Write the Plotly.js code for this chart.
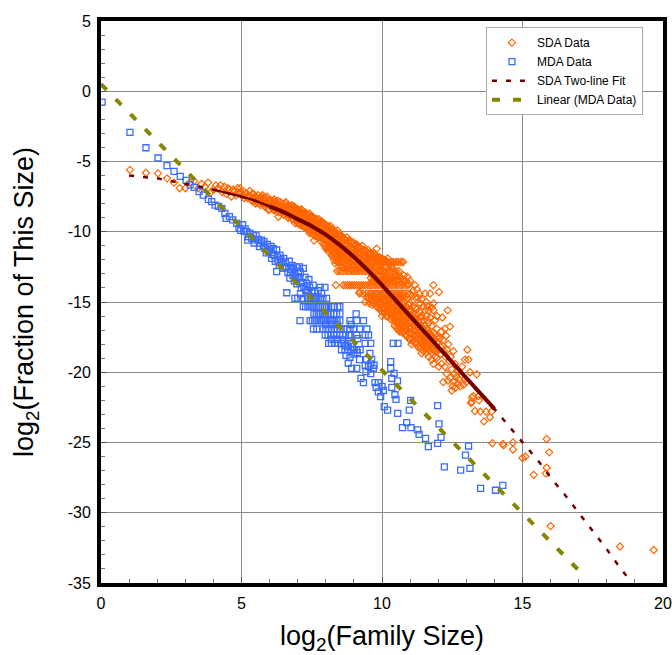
<!DOCTYPE html>
<html><head><meta charset="utf-8">
<script src="https://cdn.plot.ly/plotly-3.0.1.min.js"></script>
<style>html,body{margin:0;padding:0;background:#fff}</style></head>
<body><div id="chart" style="width:672px;height:655px"></div>
<script>
// [x, y]
const sdaHead=[[1.03,-5.6],[1.6,-5.8],[2.03,-5.85],[2.35,-6.2],[2.6,-6.5],[2.8,-6.9],[3,-6.9],[3.17,-6.5],[3.32,-6.4],[3.46,-6.9],[3.58,-6.6],[3.7,-6.8],[3.81,-6.5],[3.91,-7.2],[4,-7],[4.09,-6.7],[4.17,-6.9],[4.25,-6.7],[4.32,-7.2],[4.39,-6.8],[4.46,-7.3],[4.52,-6.9],[4.58,-7],[4.64,-7.5],[4.7,-7],[4.75,-7.1],[4.81,-7.4],[4.86,-6.9],[4.91,-7.2],[4.95,-6.9],[5,-7.2],[5.04,-7.4],[5.09,-7.6],[5.13,-7.2],[5.17,-7.3],[5.21,-7.6],[5.25,-7.4],[5.29,-7.1],[5.32,-7.5],[5.36,-7.8],[5.39,-7.3]];
// Columns: [x, y, y, ...]
const sdaColumnsLeft=[[5.42,-7.3,-7.8],[5.46,-7.5,-7.7],[5.5,-7.5,-8],[5.54,-7.6,-7.9],[5.58,-7.4,-7.7],[5.63,-7.8,-8],[5.67,-7.6,-8.1],[5.71,-7.5,-7.9],[5.75,-7.4,-8],[5.79,-7.6,-8.1],[5.83,-7.7,-8.2],[5.87,-7.6,-8],[5.91,-7.5,-7.9],[5.96,-7.8,-8.45],[6,-7.7,-8,-8.4],[6.05,-7.8,-8.2],[6.09,-7.9,-8.3],[6.13,-7.8,-8.1,-8.4],[6.17,-7.7,-8.1,-8.5],[6.21,-7.9,-8.2],[6.25,-7.9,-8.4],[6.29,-8,-8.3,-8.6],[6.31,-7.8,-8.3,-8.93],[6.38,-7.9,-8.2,-8.6],[6.43,-8,-8.5],[6.47,-8.2,-8.6],[6.5,-8.1,-8.4,-8.8],[6.54,-8,-8.3,-8.6],[6.58,-7.9,-8.3,-8.7],[6.62,-8.2,-8.5,-8.8],[6.66,-8.1,-8.6,-9],[6.71,-8.3,-8.7],[6.75,-8.2,-8.5,-8.9],[6.79,-8.1,-8.4,-8.8,-9.1],[6.83,-8.3,-8.7,-9.1],[6.87,-8.2,-8.5,-8.9],[6.91,-8.3,-8.6,-9,-9.4],[6.96,-8.4,-8.8,-9.2],[7,-8.4,-8.7,-9,-9.4],[7.04,-8.5,-8.8,-9.1,-9.4],[7.08,-8.5,-8.9,-9.2,-9.5],[7.13,-8.4,-8.7,-9,-9.3],[7.17,-8.5,-8.8,-9.1,-9.6],[7.21,-8.7,-9,-9.3,-9.6],[7.25,-8.6,-8.9,-9.3,-9.7],[7.29,-8.7,-9,-9.4,-9.7],[7.33,-8.8,-9.1,-9.4,-9.8],[7.38,-8.8,-9.2,-9.5,-9.9],[7.42,-8.7,-9,-9.4,-9.8,-10.1],[7.46,-8.9,-9.3,-9.7,-10],[7.5,-8.9,-9.2,-9.5,-9.9],[7.54,-9,-9.4,-9.8,-10.2],[7.58,-9,-9.3,-9.7,-10,-10.63],[7.63,-9.2,-9.6,-9.9,-10.3],[7.67,-9.1,-9.5,-9.8,-10.2],[7.71,-9.2,-9.6,-10,-10.3],[7.75,-9.1,-9.4,-9.8,-10.1,-10.4],[7.79,-9.3,-9.7,-10,-10.4],[7.83,-9.3,-9.6,-10,-10.3,-10.7],[7.88,-9.3,-9.7,-10.1,-10.5],[7.92,-9.4,-9.7,-10,-10.4,-10.8],[7.96,-9.5,-9.9,-10.2,-10.6,-11],[8,-9.5,-9.8,-10.1,-10.5,-10.9,-11.2],[8.04,-9.6,-9.9,-10.3,-10.7,-11.1],[8.09,-9.6,-10,-10.3,-10.6,-11,-11.4],[8.13,-9.8,-10.2,-10.5,-10.9,-11.3],[8.17,-9.6,-10.1,-10.4,-10.8,-11.2],[8.21,-9.9,-10.3,-10.7,-11,-11.4,-11.7],[8.25,-9.8,-10.2,-10.5,-10.9,-11.3,-11.7],[8.29,-9.9,-10.4,-10.8,-11.2,-11.6,-12],[8.33,-10,-10.3,-10.6,-11,-11.4,-11.8,-12.25],[8.37,-10.1,-10.5,-10.9,-11.3,-11.7,-12.1],[8.41,-9.9,-10.4,-10.8,-11.2,-11.6,-12],[8.46,-10.2,-10.6,-11,-11.4,-11.8,-12.2],[8.5,-10.2,-10.6,-10.9,-11.3,-11.7,-12.1],[8.54,-10.4,-10.8,-11.2,-11.6,-12,-12.4],[8.58,-10.3,-10.7,-11.1,-11.4,-11.8,-12.2],[8.63,-10.5,-10.9,-11.3,-11.7,-12.1,-12.5],[8.67,-10.5,-10.8,-11.2,-11.6,-11.9,-12.3],[8.71,-10.6,-11,-11.4,-11.8,-12.2],[8.75,-10.4,-10.9,-11.3,-11.7,-12,-12.4],[8.79,-10.7,-11.1,-11.5,-11.9,-12.3],[8.83,-10.6,-11,-11.4,-11.8,-12.1,-12.5],[8.88,-10.8,-11.2,-11.6,-12,-12.4],[8.92,-10.7,-11.1,-11.5,-11.9,-12.3,-12.7],[8.96,-10.9,-11.3,-11.7,-12.1,-12.5],[9,-10.8,-11.2,-11.6,-12,-12.4]];
const sdaColumnsRight=[[9.05,-11,-11.4,-11.8,-12.2,-12.6],[9.1,-10.9,-11.3,-11.7,-12.1,-12.5],[9.15,-11.1,-11.5,-11.9,-12.3,-12.6],[9.2,-11.1,-11.5,-11.9,-12.3,-14.3],[9.25,-11.2,-11.6,-12,-12.5],[9.3,-11,-11.4,-11.8,-12.2,-12.6],[9.35,-11.3,-11.7,-12.1,-12.5],[9.4,-11.3,-11.7,-12.1,-12.5,-15],[9.45,-11.4,-11.8,-12.2,-12.6],[9.5,-11.3,-11.6,-12,-12.4],[9.55,-11.6,-12,-12.5,-15.1],[9.6,-11.5,-11.9,-12.2,-12.6,-13.3,-14.9],[9.65,-11.7,-12.1,-12.5,-13.1,-13.5,-15.2],[9.7,-11.5,-11.8,-12.2,-13.2,-13.5,-15.1],[9.75,-11.7,-12,-12.5,-13.2,-13.4,-15],[9.81,-11.2,-11.9,-12.3,-13.3,-13.5,-15.3],[9.85,-11.8,-12.4,-13.1,-13.4,-15.1,-15.4],[9.9,-11.8,-12.1,-13.2,-13.5,-15,-15.5],[9.95,-11.9,-12.4,-13.1,-13.5,-15.2,-15.6],[10,-11.9,-12.3,-13.3,-13.6,-15.1,-15.7,-16],[10.05,-12,-12.5,-13.2,-13.5,-15.3,-15.6],[10.1,-12,-13.3,-13.5,-15,-15.4,-15.8],[10.15,-12.1,-12.5,-13.1,-13.4,-15.2,-15.6,-16],[10.2,-11.9,-13.2,-13.6,-15.2,-15.6,-16],[10.25,-12.3,-13.3,-15,-15.4,-15.8],[10.3,-12.3,-13.4,-15.1,-15.5,-15.9,-16.2],[10.35,-12.4,-13.2,-15.2,-15.6,-16,-16.3],[10.4,-12.2,-13.3,-13.5,-15,-15.4,-15.8,-16.1],[10.45,-13,-13.4,-15.1,-15.5,-15.9,-16.3,-16.7],[10.5,-13.2,-15.2,-15.6,-16,-16.4,-16.8],[10.54,-13.1,-13.4,-15.3,-15.7,-16.1,-16.5,-16.9],[10.58,-13.4,-15.1,-15.5,-15.9,-16.4,-17],[10.63,-13.2,-15.2,-15.6,-16,-16.4,-16.8,-17.1],[10.68,-13.3,-15.4,-15.8,-16.2,-16.6,-17],[10.73,-13.4,-15.1,-15.6,-16,-16.4,-16.8,-17.2],[10.78,-13.1,-15,-15.5,-15.9,-16.3,-16.7,-17.1],[10.84,-13.5,-15.3,-15.7,-16.1,-16.5,-16.9,-17.35],[10.9,-13.2,-15.4,-15.8,-16.2,-16.6,-17,-17.4],[10.95,-13.7,-15.2,-15.6,-16,-16.4,-16.8,-17.2,-17.6],[11,-13.5,-15.1,-15.7,-16.1,-16.5,-16.9,-17.3,-17.7],[11.05,-14.6,-15.6,-16,-16.4,-16.8,-17.2,-17.6,-18],[11.1,-14.2,-15.3,-15.8,-16.2,-16.6,-17,-17.4,-17.8],[11.18,-13.8,-14.7,-15.4,-15.9,-16.3,-16.7,-17.1,-17.5,-17.9],[11.24,-14.1,-15.5,-16.2,-16.6,-17,-17.4,-17.94],[11.28,-14.7,-15.9,-16.4,-16.8,-17.2,-17.6,-18.2],[11.33,-14.4,-15.7,-16.5,-16.9,-17.3,-17.7,-18.1],[11.37,-15.1,-16.1,-16.7,-17.1,-17.5,-17.9,-18.3],[11.41,-14.8,-16,-16.4,-16.8,-17.2,-17.6,-18,-18.65],[11.47,-15.3,-16.3,-16.9,-17.3,-17.7,-18.1,-18.5],[11.53,-14.4,-15.6,-16.7,-17.1,-17.5,-17.9,-18.3],[11.58,-15,-16,-16.9,-17.3,-17.7,-18.1,-18.6],[11.62,-15.3,-16.3,-17,-17.4,-17.8,-18.2],[11.66,-15.6,-16.5,-17.2,-17.6,-18,-18.4,-18.9],[11.71,-14.4,-16.1,-17.3,-17.7,-18.1,-18.5],[11.77,-15.4,-16.7,-17.4,-17.8,-18.2,-18.6,-19.1],[11.83,-13.8,-15.1,-15.6,-17.2,-17.6,-18,-18.4,-19.4],[11.89,-16.3,-17.3,-17.7,-18.1,-18.5,-18.9],[11.95,-16,-16.9,-17.5,-17.9,-18.3,-19]];
const sdaScatter=[[12.03,-14.3],[12.34,-15.6],[12.15,-16.1],[12.42,-16.75],[12.24,-16.9],[12.12,-17.1],[12.05,-17.6],[12.08,-18.2],[12.18,-17.7],[12.2,-18.5],[12.02,-18.4],[12.1,-18.7],[12.14,-18.1],[12.28,-17.4],[12.32,-18.4],[12.26,-18.9],[12.36,-18],[12.44,-18.9],[13.04,-18.4],[12.54,-18.5],[12.95,-19.1],[13.07,-19.1],[13.37,-20.15],[13.13,-20],[12.12,-19.4],[12.02,-19.6],[12.24,-19.6],[12.48,-19.8],[12.3,-20.1],[12.18,-20.7],[12.48,-21.3],[12.78,-21],[12.9,-20.9],[12.66,-20.3],[12.4,-19.2],[12.6,-19.4],[12.7,-19.9],[12.85,-20.2],[12.95,-20.5],[12.55,-20.7],[12.7,-20.8],[12.62,-21.1],[12.35,-20.6],[12.85,-19.6],[12.58,-20.1],[12.42,-20.4],[12.74,-20.5],[12.52,-21],[13,-20.7],[13.19,-22.1],[13.43,-21.7],[13.25,-21.7],[13.2,-21.8],[13.17,-22.2],[13.45,-22],[13.31,-22.76],[13.5,-22.8],[13.7,-22.8],[13.9,-22.8],[13.84,-23.2],[13.63,-23.5],[13.93,-25.05],[14.3,-25.1],[14.33,-25.2],[14.66,-25],[14.66,-25.5],[15,-26.1],[15.1,-26],[15.4,-27.3],[15.86,-24.75],[15.95,-25.7],[15.86,-26.8],[15.83,-27.2],[16,-30.95],[18.47,-32.4],[19.67,-32.65]];
// Horizontal rows of points: one y, many x
const sdaRowY=[-12.15,-12.8,-13.8,-14.4,-14.7];
const sdaRowX=[
[9.3,9.42,9.5,9.61,9.7,9.82,9.9,10.02,10.1,10.2,10.31,10.4,10.5,10.58,10.67,10.75],
[8.4,8.48,8.55,8.63,8.72,8.8,8.88,8.95,9.03,9.1,9.18,9.27,9.35,9.43,9.52,9.6,9.68,9.76,9.85,9.93,10,10.08,10.17,10.25,10.33,10.42,10.5,10.6],
[8.36,8.62,8.7,8.78,8.85,8.93,9.01,9.09,9.17,9.25,9.33,9.41,9.5,9.58,9.66,9.75,9.83,9.91,10,10.08,10.16,10.25,10.33,10.41,10.5,10.58,10.67,10.75,10.85,10.93],
[9.2,9.32,9.45,9.55,9.63,9.72,9.8,9.88,9.97,10.05,10.13,10.22,10.3,10.38,10.47,10.55,10.63,10.72,10.8,10.9,11],
[9.47,9.55,9.63,9.72,9.8,9.88,9.97,10.05,10.13,10.22,10.3,10.38,10.47,10.55,10.63,10.72,10.8,10.9]];

const mdaHead=[[0.04,-0.77],[1.03,-2.92],[1.6,-4.02],[2.03,-4.75],[2.35,-5.3],[2.6,-5.7],[2.82,-6.06],[3.03,-6.34],[3.17,-6.67],[3.32,-6.84],[3.49,-7.15],[3.64,-7.4],[3.82,-7.7],[3.94,-7.86],[4.06,-8.1],[4.18,-8.2],[4.3,-8.33],[4.41,-8.7],[4.45,-9.05],[4.57,-8.93],[4.69,-9.16],[4.83,-9.4],[4.91,-9.76],[4.97,-9.9],[5.04,-9.5],[5.08,-9.95],[5.13,-9.8],[5.19,-10],[5.22,-10.6],[5.25,-10.35],[5.3,-10.1],[5.36,-10.47],[5.42,-10.2],[5.45,-10.8],[5.48,-10.6],[5.52,-10.3],[5.6,-10.54],[5.66,-10.8],[5.72,-10.6],[5.64,-11.06],[5.78,-11],[5.8,-10.7],[5.84,-11.2],[5.88,-11.5],[5.92,-10.9],[5.96,-11.4],[6,-11.3],[6.05,-11.05],[6.07,-11.9],[6.09,-11.6],[6.13,-11.2],[6.16,-11.66],[6.2,-12.1],[6.25,-11.3],[6.25,-12.84],[6.28,-11.8],[6.3,-12],[6.34,-12.4],[6.37,-11.66],[6.4,-11.95],[6.43,-12.13],[6.47,-12.6],[6.5,-11.9],[6.52,-12.5],[6.56,-12.2],[6.6,-12.5],[6.61,-14.34],[6.65,-12.9],[6.7,-12.1],[6.72,-13.3],[6.74,-12.9],[6.78,-12.7],[6.8,-12.4],[6.83,-13.1],[6.85,-12.6],[6.88,-13.5],[6.9,-13],[6.9,-14.74],[6.93,-13.3],[6.95,-12.5],[6.97,-13.7],[7,-13.2],[7.03,-12.8],[7.06,-12.5],[7.08,-13.3],[7.08,-16.33],[7.1,-12.9],[7.13,-14],[7.15,-13.6],[7.2,-12.6],[7.22,-13.9],[7.26,-13.25],[7.3,-14.3],[7.32,-13.67],[7.35,-14.2],[7.4,-13.4],[7.42,-13.95],[7.45,-14.7],[7.5,-14.3],[7.55,-13.8],[7.6,-14.2],[7.65,-14.75],[7.73,-14.2],[7.8,-13.96],[7.85,-14.4],[7.97,-13.96],[8.03,-14.74],[7,-14.74],[7.1,-14.4],[7.18,-14.74],[7.28,-14.1],[7.35,-14.74],[7.55,-14.74],[7.75,-14.74],[7.9,-14.74],[7.48,-14.74],[7.62,-14.74],[7.82,-14.74]];
const mdaRowY=[-15.33,-15.85,-16.33,-16.92,-17.35,-17.94,-18.4];
const mdaRowX=[
[7.2,7.28,7.36,7.44,7.51,7.58,7.66,7.73,7.8,7.88,7.95,8.03,8.1,8.2,8.3,8.42,8.5],
[7.58,7.66,7.73,7.8,7.9,8,8.08,8.18,8.28,8.38,8.5,9.08],
[7.44,7.52,7.6,7.68,7.76,7.84,7.92,8,8.08,8.16,8.24,8.32,8.4,8.5,8.86,9.1,9.34],
[7.56,7.68,7.9,8,8.08,8.2,8.32,8.4,8.5,8.64,8.76,8.86,9,9.2,9.46],
[7.98,8.08,8.18,8.28,8.38,8.5,8.6,8.7,8.82,8.86,9.1,9.4,9.52],
[8.1,8.2,8.32,8.44,8.56,8.66,8.76,8.9,9.4,9.6,10.4,10.57],
[8.56,8.68,8.78,8.88,9,9.1,9.22]];
const mdaScatter=[[8,-16.6],[8.2,-16.6],[8.4,-16.6],[8.2,-17.65],[8.4,-17.65],[8.6,-17.7],[8.9,-16.6],[9.14,-17.6],[8.7,-18.1],[8.8,-18.2],[9,-18.7],[8.72,-18.8],[8.86,-18.95],[8.95,-18.2],[9.12,-18.6],[9.57,-18.65],[9.63,-19.1],[8.8,-19.36],[8.92,-19.72],[9.1,-19.72],[9.2,-19.1],[9.4,-19.5],[9.52,-19.6],[9.45,-19.1],[9.6,-19.4],[9.72,-19.5],[10.31,-19.25],[10.31,-19.72],[9.69,-19.72],[9.6,-20.1],[9.43,-19.96],[10.43,-20.08],[9.25,-20.43],[9.34,-20.74],[9.75,-20.74],[9.87,-20.74],[10.35,-20.43],[10.55,-20.62],[9.79,-21.07],[10,-21],[10.05,-21.3],[10.35,-21.07],[9.95,-21.74],[9.87,-21.4],[10.46,-21.6],[10.5,-21.93],[11.02,-22],[10.97,-22.7],[11.98,-22.38],[10.08,-22.45],[10.2,-22.7],[10.56,-22.93],[12.03,-23.68],[10.88,-23.59],[10.73,-23.94],[11.03,-23.94],[11.27,-24.1],[11.32,-24.42],[11.55,-24.7],[11.65,-25.3],[11.98,-25.06],[12.1,-24.63],[13.08,-25.25],[12.97,-25.9],[12.22,-26.74],[12.8,-26.96],[13.13,-26.84],[13.51,-28.26],[14.04,-28.4],[14.3,-28.05]];

const fitX=[1,2,3,4,5,5.5,6,6.5,7,7.5,8,8.5,9,9.5,10,10.5,11,11.5,12,13,14,14.5,15,15.6,16,16.5,17,17.5,18,18.5,18.83];
const fitY=[-6,-6.2,-6.6,-7,-7.5,-7.8,-8.2,-8.6,-9.1,-9.6,-10.2,-10.95,-11.8,-12.75,-13.8,-14.9,-16,-17.1,-18.2,-20.4,-22.6,-23.8,-25,-26.4,-27.5,-28.7,-30,-31.3,-32.6,-34,-34.8];
const linearX=[0,17.1];
const linearY=[0.5,-34.3];
const xTicks=[0,5,10,15,20];
const yTicks=[5,0,-5,-10,-15,-20,-25,-30,-35];

function collect(pairs,columns,rowY,rowX){
  const x=[],y=[];
  pairs.forEach(p=>{x.push(p[0]);y.push(p[1]);});
  columns.forEach(c=>c.slice(1).forEach(v=>{x.push(c[0]);y.push(v);}));
  rowY.forEach((v,i)=>rowX[i].forEach(u=>{x.push(u);y.push(v);}));
  return {x,y};
}
const sda=collect(sdaHead.concat(sdaScatter),sdaColumnsLeft.concat(sdaColumnsRight),sdaRowY,sdaRowX);
const mda=collect(mdaHead.concat(mdaScatter),[],mdaRowY,mdaRowX);
const orange='#FF6600',blue='#3A6CFF',maroon='#760000',olive='#858500';
const solidFrom=fitX.indexOf(4),midFrom=fitX.indexOf(6),solidTo=fitX.indexOf(14)+1;
const traces=[
 {name:'SDA Data',x:sda.x,y:sda.y,mode:'markers',type:'scatter',marker:{symbol:'diamond-open',size:5.5,color:orange,line:{color:orange,width:1.2}}},
 {name:'MDA Data',x:mda.x,y:mda.y,mode:'markers',type:'scatter',marker:{symbol:'square-open',size:6,color:blue,line:{color:blue,width:1.3}}},
 {name:'SDA Two-line Fit',x:fitX,y:fitY,mode:'lines',type:'scatter',line:{color:maroon,width:2.5,dash:'5px,9px'}},
 {name:'Linear (MDA Data)',x:linearX,y:linearY,mode:'lines',type:'scatter',line:{color:olive,width:4,dash:'8px,13px'}},
 {x:fitX.slice(solidFrom,midFrom+1),y:fitY.slice(solidFrom,midFrom+1),mode:'lines',type:'scatter',showlegend:false,hoverinfo:'skip',line:{color:maroon,width:2.2,shape:'spline'}},
 {x:fitX.slice(midFrom,solidTo),y:fitY.slice(midFrom,solidTo),mode:'lines',type:'scatter',showlegend:false,hoverinfo:'skip',line:{color:maroon,width:4,shape:'spline'}}
];
const axisFont={family:'"Liberation Sans",Arial,sans-serif',size:16,color:'#000'};
const titleFont={family:'"Liberation Sans",Arial,sans-serif',size:27,color:'#000'};
const layout={
 width:672,height:655,autosize:false,paper_bgcolor:'#fff',plot_bgcolor:'#fff',
 margin:{l:101,r:9,t:21,b:72},
 font:{family:'"Liberation Sans",Arial,sans-serif',color:'#000'},
 xaxis:{range:[0,20],tickmode:'array',tickvals:xTicks,ticktext:xTicks.map(String),tickfont:axisFont,ticks:'inside',ticklen:6,tickcolor:'#555',ticklabelstandoff:3,
  showgrid:true,gridcolor:'#8a8a8a',gridwidth:1,zeroline:false,showline:true,linecolor:'#000',linewidth:4,mirror:true,
  minor:{dtick:1,ticks:'inside',ticklen:4,tickcolor:'#777',showgrid:false},
  title:{text:'log<sub>2</sub>(Family Size)',font:titleFont,standoff:25}},
 yaxis:{range:[-35,5],tickmode:'array',tickvals:yTicks,ticktext:yTicks.map(String),tickfont:axisFont,ticks:'inside',ticklen:6,tickcolor:'#555',ticklabelstandoff:3,
  showgrid:true,gridcolor:'#8a8a8a',gridwidth:1,zeroline:false,showline:true,linecolor:'#000',linewidth:4,mirror:true,
  minor:{dtick:1,ticks:'inside',ticklen:4,tickcolor:'#777',showgrid:false},
  title:{text:'log<sub>2</sub>(Fraction of This Size)',font:titleFont,standoff:27}},
 legend:{x:0.685,y:0.989,xanchor:'left',yanchor:'top',bgcolor:'#fff',bordercolor:'#aaa',borderwidth:1,itemwidth:40,
  font:{family:'"Liberation Sans",Arial,sans-serif',size:12,color:'#000'}},
 showlegend:true
};
Plotly.newPlot('chart',traces,layout,{displayModeBar:false,staticPlot:true});
</script></body></html>
